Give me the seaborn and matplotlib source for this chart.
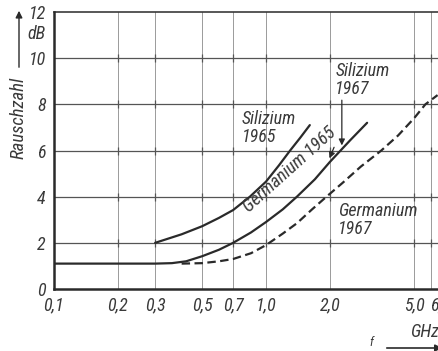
import matplotlib
matplotlib.use("Agg")
import matplotlib.pyplot as plt
from matplotlib import font_manager
from matplotlib.transforms import ScaledTranslation
import numpy as np
import pandas as pd
import seaborn as sns

# Frequency axis ticks (GHz) and noise-figure axis ticks (dB)
x_ticks = [0.1, 0.2, 0.3, 0.5, 0.7, 1.0, 2.0, 5.0, 6.0]
x_tick_labels = ["0,1", "0,2", "0,3", "0,5", "0,7", "1,0", "2,0", "5,0", "6,0"]
y_ticks = [0, 2, 4, 6, 8, 10, 12]
y_tick_labels = ["0", "2", "4", "6", "8", "10", "12"]

# Silizium 1965 (solid)
freq_si65 = [0.3, 0.4, 0.5, 0.6, 0.7, 0.84, 1.0, 1.15, 1.3, 1.45, 1.61]
nf_si65 = [2.0, 2.37, 2.72, 3.08, 3.42, 4.0, 4.65, 5.35, 6.0, 6.55, 7.1]

# Germanium 1965 / Silizium 1967 (solid)
freq_ge65 = [0.1, 0.2, 0.3, 0.36, 0.42, 0.5, 0.6, 0.7, 0.85, 1.0, 1.2, 1.4, 1.7, 2.0, 2.5, 3.0]
nf_ge65 = [1.1, 1.1, 1.1, 1.12, 1.2, 1.42, 1.7, 2.0, 2.45, 2.9, 3.45, 4.0, 4.75, 5.5, 6.45, 7.2]

# Germanium 1967 (dashed)
freq_ge67 = [0.4, 0.5, 0.6, 0.7, 0.85, 1.0, 1.2, 1.4, 1.65, 1.93, 2.3, 2.8, 3.5, 4.2, 5.0, 5.65, 6.45]
nf_ge67 = [1.1, 1.12, 1.2, 1.3, 1.55, 1.9, 2.4, 2.85, 3.45, 4.0, 4.6, 5.3, 6.0, 6.65, 7.4, 8.0, 8.4]

sns.set_style("white")

# prefer a narrow face for the DIN-like lettering
available = {f.name for f in font_manager.fontManager.ttflist}
narrow = [n for n in ("Liberation Sans Narrow", "Roboto Condensed", "Open Sans Condensed")
          if n in available]
plt.rcParams["font.family"] = narrow + ["DejaVu Sans"]
plt.rcParams["font.style"] = "italic"
plt.rcParams["font.stretch"] = "condensed"
fs = 13 if narrow else 10

ink = "#2a2a2a"
text_col = "#3a3a3a"

fig = plt.figure(figsize=(4.38, 3.51), dpi=100)
ax = fig.add_axes([54 / 438, 62 / 351, (438 - 54) / 438, 277 / 351])

curves = pd.concat([
    pd.DataFrame({"f": freq_si65, "nf": nf_si65, "kurve": "Si65"}),
    pd.DataFrame({"f": freq_ge65, "nf": nf_ge65, "kurve": "Ge65"}),
    pd.DataFrame({"f": freq_ge67, "nf": nf_ge67, "kurve": "Ge67"}),
])

ax.set_xscale("log")
ax.set_xlim(0.1, 6.48)
ax.set_ylim(0, 12)

# grid: horizontal lines strong, vertical lines faint
for y in y_ticks[1:-1]:
    ax.axhline(y, color="#555555", lw=0.9, zorder=1)
for x in x_ticks[1:]:
    ax.axvline(x, color="#9a9a9a", lw=0.7, zorder=1)
gx, gy = np.meshgrid(x_ticks[1:], y_ticks[1:-1])
ax.plot(gx.ravel(), gy.ravel(), linestyle="none", marker="|", markersize=6,
        markeredgewidth=0.9, color="#555555", zorder=1)

sns.lineplot(data=curves[curves.kurve == "Si65"], x="f", y="nf", ax=ax,
             color=ink, lw=1.6, sort=False, estimator=None, zorder=3)
sns.lineplot(data=curves[curves.kurve == "Ge65"], x="f", y="nf", ax=ax,
             color=ink, lw=1.6, sort=False, estimator=None, zorder=3)
sns.lineplot(data=curves[curves.kurve == "Ge67"], x="f", y="nf", ax=ax,
             color=ink, lw=1.6, sort=False, estimator=None, zorder=3,
             linestyle=(0, (3.8, 2.0)))

ax.set_xticks(x_ticks)
ax.set_xticklabels(x_tick_labels)
ax.xaxis.set_minor_locator(matplotlib.ticker.NullLocator())
ax.set_yticks(y_ticks)
ax.set_yticklabels(y_tick_labels)
ax.tick_params(axis="both", length=0, labelsize=fs, labelcolor=text_col)
ax.tick_params(axis="x", pad=5)
ax.tick_params(axis="y", pad=6)
ax.set_xlabel("")
ax.set_ylabel("")

# the last frequency label starts at its tick, running into the right edge
xt = ax.get_xticklabels()
xt[-1].set_horizontalalignment("left")
xt[-1].set_transform(xt[-1].get_transform()
                     + ScaledTranslation(-1 / 100, 0, fig.dpi_scale_trans))

for side in ("left", "bottom"):
    ax.spines[side].set_linewidth(1.8)
    ax.spines[side].set_color(ink)
ax.spines["top"].set_linewidth(1.1)
ax.spines["top"].set_color(ink)
ax.spines["right"].set_visible(False)

# curve labels
ax.text(0.771, 7.75, "Silizium\n1965", ha="left", va="top", fontsize=fs,
        color=text_col, linespacing=1.0)
ax.text(2.12, 9.85, "Silizium\n1967", ha="left", va="top", fontsize=fs,
        color=text_col, linespacing=1.0)
ax.text(2.19, 3.75, "Germanium\n1967", ha="left", va="top", fontsize=fs,
        color=text_col, linespacing=1.0)
ax.text(1.29, 5.15, "Germanium 1965", ha="center", va="center", fontsize=fs,
        color=text_col, rotation=42, rotation_mode="anchor")

# leader arrows
ax.annotate("", xy=(2.28, 6.1), xytext=(2.28, 8.3),
            arrowprops=dict(arrowstyle="-|>", color=ink, lw=0.9, mutation_scale=9))
ax.annotate("", xy=(1.97, 5.55), xytext=(2.12, 6.25),
            arrowprops=dict(arrowstyle="-|>", color=ink, lw=0.9, mutation_scale=9))

# axis titles
fig.text(19 / 438, 1 - 118 / 351, "Rauschzahl", rotation=90, ha="center",
         va="center", fontsize=fs + 0.5, color=text_col)
ax.annotate("", xy=(19 / 438, 1 - 8 / 351), xytext=(19 / 438, 1 - 70 / 351),
            xycoords="figure fraction", textcoords="figure fraction",
            arrowprops=dict(arrowstyle="-|>", color=ink, lw=1.0, mutation_scale=10))
fig.text(36 / 438, 1 - 34 / 351, "dB", ha="center", va="center",
         fontsize=fs, color=text_col)

fig.text(410 / 438, 1 - 332 / 351, "GHz", ha="left", va="center",
         fontsize=fs, color=text_col)
fig.text(371 / 438, 1 - 343 / 351, "f", ha="center", va="center",
         fontsize=fs - 4, color=text_col)
ax.annotate("", xy=(445 / 438, 1 - 348 / 351), xytext=(384 / 438, 1 - 348 / 351),
            xycoords="figure fraction", textcoords="figure fraction",
            arrowprops=dict(arrowstyle="-|>", color=ink, lw=1.2, mutation_scale=10))

fig.savefig("out.png", dpi=100, facecolor="white")
